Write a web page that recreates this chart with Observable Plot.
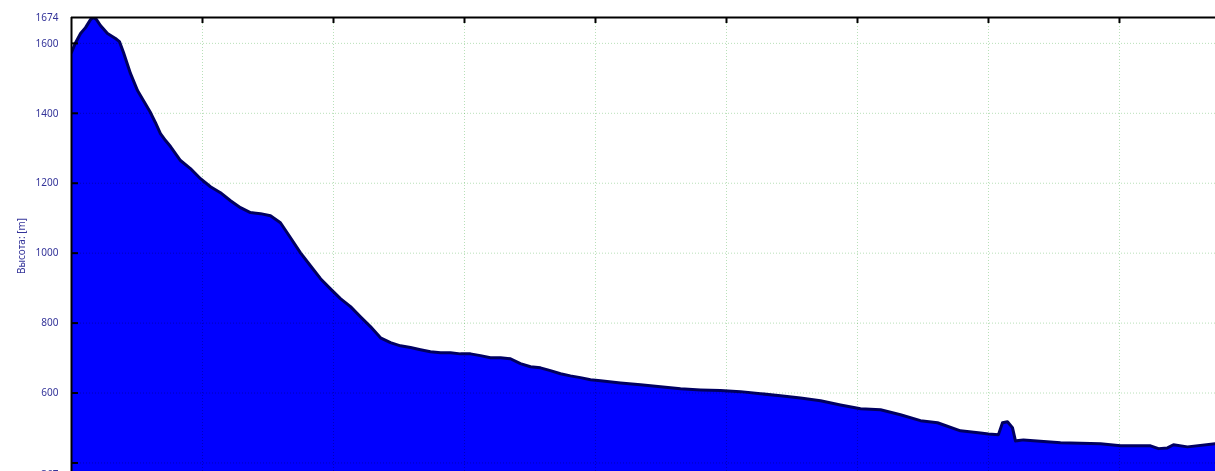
<!DOCTYPE html>
<html><head><meta charset="utf-8">
<script src="https://cdn.jsdelivr.net/npm/d3@7"></script>
<script src="https://cdn.jsdelivr.net/npm/@observablehq/plot@0.6"></script>
<style>html,body{margin:0;padding:0;overflow:hidden;background:#fff}</style>
</head><body><div id="chart"></div>
<script>
const distance = [0,0.031,0.069,0.107,0.145,0.168,0.191,0.221,0.275,0.336,0.366,0.397,0.450,0.504,0.550,0.603,0.641,0.679,0.718,0.756,0.794,0.832,0.908,0.985,1.061,1.137,1.214,1.290,1.366,1.443,1.519,1.595,1.672,1.748,1.824,1.901,1.977,2.053,2.130,2.206,2.282,2.359,2.435,2.511,2.588,2.664,2.740,2.817,2.893,2.969,3.046,3.122,3.198,3.275,3.351,3.427,3.504,3.580,3.656,3.733,3.809,3.885,3.962,4.038,4.191,4.344,4.496,4.649,4.802,4.954,5.107,5.260,5.412,5.565,5.718,5.870,6.023,6.176,6.328,6.481,6.611,6.786,6.939,7.000,7.076,7.107,7.145,7.183,7.206,7.267,7.550,7.855,8.008,8.237,8.298,8.366,8.412,8.519,8.733];
const elevation = [1574,1602,1628,1645,1668,1674,1668,1651,1628,1614,1605,1574,1514,1465,1436,1402,1373,1342,1322,1305,1285,1265,1242,1213,1190,1173,1150,1130,1116,1113,1107,1087,1044,1001,964,927,898,870,847,818,790,758,744,735,730,724,718,715,715,712,712,707,701,701,698,684,675,672,664,655,649,644,638,635,629,624,618,612,609,607,604,598,592,586,578,566,555,552,538,521,515,492,486,483,481,515,518,501,463,466,458,455,449,449,441,443,452,446,455];
const yLabelTicks = [1674,1600,1400,1200,1000,800,600,367];
const yGridTicks = [1600,1400,1200,1000,800,600,400];
const xTicks = [1,2,3,4,5,6,7,8];
const yMin = 367, yMax = 1674, xMax = 8.733;
const data = distance.map((d, i) => ({d, e: elevation[i]}));

const chart = Plot.plot({
  width: 1215, height: 494,
  marginLeft: 71, marginRight: 0, marginTop: 17, marginBottom: 20,
  style: {background: "#fff", fontFamily: "'Noto Sans', sans-serif", fontSize: "10px", overflow: "hidden"},
  x: {domain: [0, xMax]},
  y: {domain: [yMin, yMax]},
  marks: [
    Plot.areaY(data, {x: "d", y: "e", y1: yMin, fill: "#0000ff", clip: true}),
    Plot.lineY(data, {x: "d", y: "e", stroke: "#000060", strokeWidth: 3, strokeLinejoin: "round", clip: true}),
    Plot.ruleY(yGridTicks, {stroke: "#b8e0b8", strokeDasharray: "1,2", mixBlendMode: "multiply"}),
    Plot.ruleX(xTicks, {stroke: "#b8e0b8", strokeDasharray: "1,2", mixBlendMode: "multiply"}),
    Plot.axisY(yLabelTicks, {tickSize: 0, tickPadding: 13, fill: "#333399", fontSize: 10,
      label: "Высота: [m]", labelAnchor: "center", labelOffset: 54, labelArrow: "none", tickFormat: d => String(d)}),
    Plot.axisY(yGridTicks, {tickSize: -7, strokeWidth: 2, stroke: "#000", tickFormat: () => "", label: null}),
    Plot.axisX(xTicks, {anchor: "top", tickSize: -5, strokeWidth: 2, stroke: "#000", tickFormat: () => "", label: null}),
    Plot.ruleY([yMax], {strokeWidth: 2, stroke: "#000"}),
    Plot.ruleX([0], {strokeWidth: 2, stroke: "#000"})
  ]
});
document.getElementById("chart").appendChild(chart);
</script>
</body></html>
